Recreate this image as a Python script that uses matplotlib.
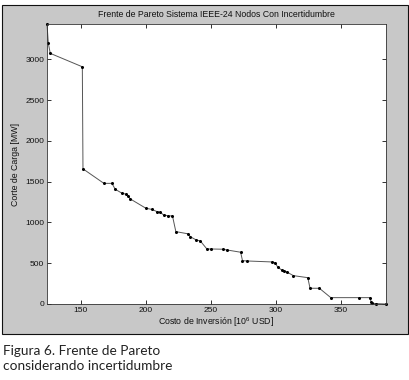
import matplotlib
matplotlib.use("Agg")
import matplotlib.pyplot as plt
from matplotlib.patches import Rectangle

plt.rcParams['font.family'] = ['Liberation Sans', 'DejaVu Sans']
plt.rcParams['mathtext.default'] = 'regular'

# Pareto front data (investment cost [10^6 USD], load shedding [MW])
costo = [124.0, 125.0, 126.5, 151.2, 151.7, 167.8, 174.0, 176.5, 181.7, 185.0,
         186.5, 188.0, 200.1, 204.8, 208.6, 211.2, 213.7, 217.5, 220.6, 223.2,
         232.9, 234.2, 238.8, 242.0, 247.1, 250.2, 259.4, 262.5, 273.1, 274.5,
         278.0, 297.0, 299.6, 301.7, 304.8, 306.5, 308.6, 313.7, 324.8, 326.5,
         333.7, 342.5, 364.2, 372.5, 373.5, 374.5, 377.0, 385.0]
corte = [3435, 3200, 3075, 2910, 1658, 1480, 1480, 1408, 1359, 1347,
         1330, 1290, 1175, 1160, 1134, 1126, 1093, 1081, 1081, 888,
         860, 827, 786, 774, 675, 675, 672, 663, 635, 532,
         528, 516, 508, 450, 417, 405, 393, 348, 323, 193,
         193, 78, 78, 78, 30, 10, 5, 0]

titulo = "Frente de Pareto Sistema IEEE-24 Nodos Con Incertidumbre"
xlabel = "Costo de Inversión [10$^{6}$ USD]"
ylabel = "Corte de Carga [MW]"
xticks = [150, 200, 250, 300, 350]
yticks = [0, 500, 1000, 1500, 2000, 2500, 3000]
caption = "Figura 6. Frente de Pareto\nconsiderando incertidumbre"

W, H = 409, 380
fig = plt.figure(figsize=(W / 100, H / 100), dpi=100)
fig.patch.set_facecolor('white')

# gray MATLAB figure panel
panel = Rectangle((2 / W, 46 / H), 406 / W, 329 / H, transform=fig.transFigure,
                  facecolor='#c8c8c8', edgecolor='#111111', linewidth=0.8, zorder=-5)
fig.patches.append(panel)

ax = fig.add_axes([47 / W, 76 / H, 339 / W, 280 / H], zorder=2)
ax.set_facecolor('white')
ax.plot(costo, corte, color='#555555', linewidth=0.7, marker='.', markersize=2.4,
        markerfacecolor='black', markeredgecolor='black', clip_on=False)
ax.set_xlim(min(costo), max(costo))
ax.set_ylim(0, max(corte))
ax.set_xticks(xticks)
ax.set_yticks(yticks)
ax.tick_params(direction='in', top=True, right=True, length=3, width=0.6,
               labelsize=6, pad=2, colors='#111111')
for s in ax.spines.values():
    s.set_linewidth(0.6)
    s.set_color('#333333')
ax.set_title(titulo, fontsize=6.3, pad=5, color='#111111')
ax.set_xlabel(xlabel, fontsize=6.3, labelpad=1, color='#111111')
ax.set_ylabel(ylabel, fontsize=6.3, labelpad=4, color='#111111')

fig.text(3 / W, 1 - 345 / H, caption, fontsize=9.8, family=['Lato', 'DejaVu Sans'],
         va='top', ha='left', color='#222222', linespacing=1.3)

fig.savefig('out.png', dpi=100, facecolor='white')
